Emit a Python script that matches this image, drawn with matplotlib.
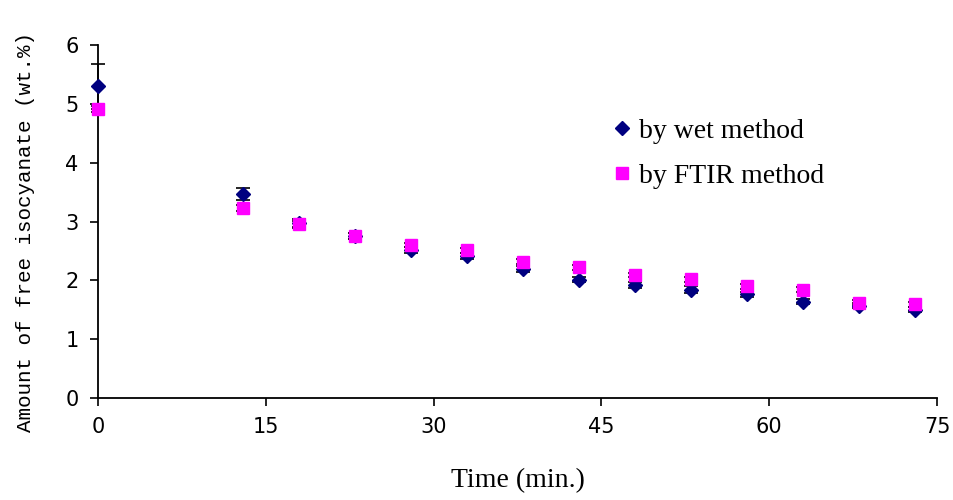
import matplotlib
matplotlib.use("Agg")
import matplotlib.pyplot as plt
import numpy as np

time_min = [0, 13, 18, 23, 28, 33, 38, 43, 48, 53, 58, 63, 68, 73]
wet = [5.30, 3.47, 2.97, 2.75, 2.52, 2.41, 2.19, 2.01, 1.92, 1.84, 1.76, 1.64, 1.57, 1.50]
wet_err = [0.38, 0.10, 0.08, 0.05, 0.05, 0.05, 0.05, 0.04, 0.05, 0.06, 0.05, 0.04, 0.04, 0.04]
ftir = [4.91, 3.23, 2.96, 2.76, 2.60, 2.51, 2.32, 2.22, 2.09, 2.02, 1.90, 1.84, 1.62, 1.59]
ftir_err = [0.05, 0.05, 0.05, 0.05, 0.04, 0.04, 0.04, 0.04, 0.04, 0.04, 0.04, 0.04, 0.04, 0.04]
x_ticks = [0, 15, 30, 45, 60, 75]
y_ticks = [0, 1, 2, 3, 4, 5, 6]

fig = plt.figure(figsize=(9.54, 5.0), dpi=100)
ax = fig.add_axes([0.1027, 0.204, 0.8795, 0.706])

for vals, errs in ((wet, wet_err), (ftir, ftir_err)):
    eb = ax.errorbar(time_min, vals, yerr=errs, fmt='none', ecolor='black',
                     elinewidth=1.2, capsize=5, capthick=1.2, zorder=2)
    for art in eb.lines[1] + eb.lines[2]:
        art.set_clip_on(False)
ax.plot(time_min, wet, linestyle='none', marker='D', markersize=7.5,
        color='#000080', label='by wet method', zorder=3, clip_on=False)
ax.plot(time_min, ftir, linestyle='none', marker='s', markersize=9,
        color='#FF00FF', label='by FTIR method', zorder=4, clip_on=False)

ax.set_xlim(0, 75)
ax.set_ylim(0, 6)
ax.set_xticks(x_ticks)
ax.set_yticks(y_ticks)
for s in ['top', 'right']:
    ax.spines[s].set_visible(False)
for s in ['left', 'bottom']:
    ax.spines[s].set_linewidth(1.3)
    ax.spines[s].set_color('black')
    ax.spines[s].set_zorder(1)

tick_font = ['DejaVu Sans']
ax.tick_params(axis='both', direction='out', length=6, width=1.2, pad=8)
for lab in ax.get_xticklabels() + ax.get_yticklabels():
    lab.set_fontfamily(tick_font)
    lab.set_fontsize(15)

ax.set_xlabel('Time (min.)', fontfamily='Liberation Serif', fontsize=20, labelpad=22)
ax.set_ylabel('Amount of free isocyanate (wt.%)', fontfamily='Liberation Mono',
              fontsize=15, labelpad=12)
ax.yaxis.set_label_coords(-0.075, 0.47)

leg = ax.legend(loc='center left', bbox_to_anchor=(0.598, 0.692), frameon=False,
                prop={'family': 'Liberation Serif', 'size': 20}, borderpad=0,
                handlelength=0.6, handletextpad=0.3, labelspacing=0.7)

fig.savefig('out.png', dpi=100)
